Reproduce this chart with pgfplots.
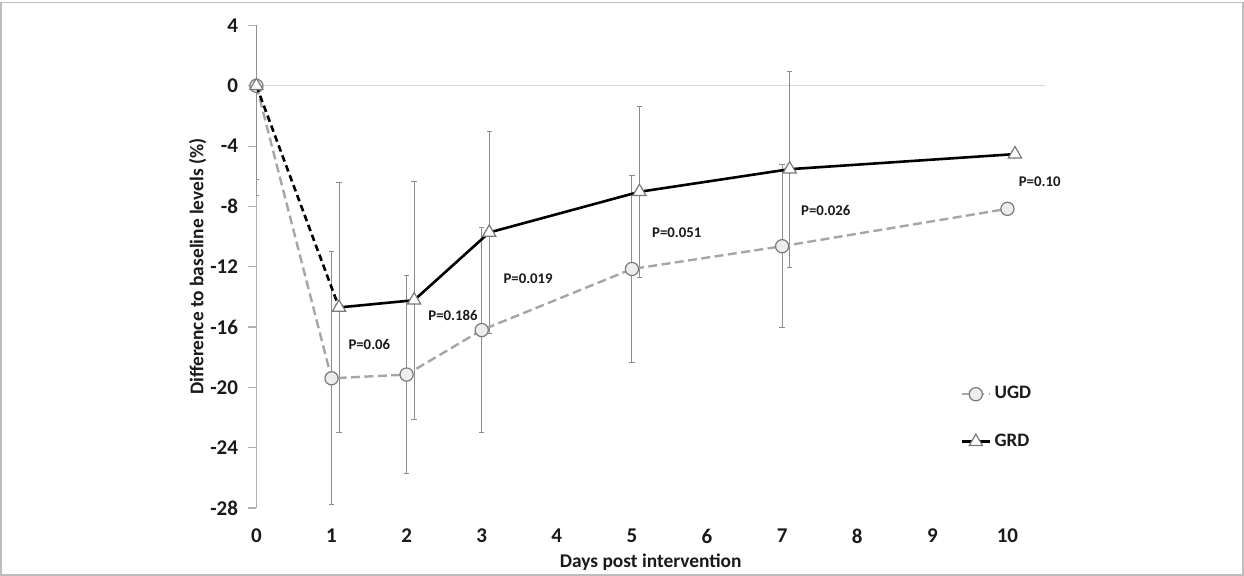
\documentclass[border=0pt]{standalone}
\usepackage{pgfplots}
\pgfplotsset{compat=1.18}
\usepackage{fontspec}
\setmainfont{Carlito}
\definecolor{ugdline}{HTML}{A6A6A6}
\definecolor{ugdfill}{HTML}{EDEDED}
\definecolor{mkedge}{HTML}{7A7A7A}
\definecolor{errc}{HTML}{8C8C8C}
\definecolor{axc}{HTML}{B0B0B0}
\definecolor{zeroc}{HTML}{D9D9D9}
\definecolor{framec}{HTML}{BDBDBD}
\definecolor{txt}{HTML}{1A1A1A}

\pgfplotstableread{
x y e
0 0 7.3
1 -19.4 8.4
2 -19.15 6.55
3 -16.2 6.8
5 -12.15 6.2
7 -10.64 5.4
10 -8.16 0
}\ugd

\pgfplotstableread{
x y e
0 0 6.2
1.1 -14.7 8.3
2.1 -14.22 7.9
3.1 -9.73 6.7
5.1 -7.03 5.67
7.1 -5.53 6.5
10.1 -4.53 0
}\grd

\begin{document}
\begin{tikzpicture}
\useasboundingbox (0,0) rectangle (622pt,288pt);
\draw[framec, line width=0.7pt] (0.5pt,0.4pt) rectangle (621.4pt,286.6pt);
\begin{axis}[
  at={(128.2pt,34pt)}, anchor=south west,
  scale only axis, width=394.3pt, height=241.25pt,
  xmin=0, xmax=10.5, ymin=-28, ymax=4,
  clip mode=individual,
  axis lines=left, axis line style={-},
  x axis line style={draw=none},
  y axis line style={draw=axc, line width=0.6pt},
  xtick={0,1,2,3,4,5,6,7,8,9,10},
  xticklabels={0,1,2,3,4,5,6,7,8,9,10},
  ytick={-28,-24,-20,-16,-12,-8,-4,0,4},
  yticklabels={-28,-24,-20,-16,-12,-8,-4,0,4},
  xtick style={draw=none},
  ytick style={draw=axc, line width=0.6pt},
  tick align=outside, major tick length=4pt,
  tick label style={font=\fontsize{10.5}{12}\selectfont\bfseries, text=txt},
  xticklabel style={anchor=center, yshift=-10pt},
  yticklabel style={anchor=east, inner sep=0pt, xshift=-5pt},
  extra y ticks={0}, extra y tick labels={},
  extra y tick style={grid=major, major grid style={draw=zeroc, line width=0.6pt}, tick style={draw=none}},
  xlabel={Days post intervention},
  ylabel={Difference to baseline levels (\%)},
  xlabel style={at={(axis description cs:0.5,-0.112)}, anchor=center, font=\fontsize{9.7}{11}\selectfont\bfseries, text=txt},
  ylabel style={at={(axis description cs:-0.0746,0.5)}, anchor=center, font=\fontsize{9.7}{11}\selectfont\bfseries, text=txt},
  legend image code/.code={\draw[mark repeat=2, mark phase=2, #1] plot coordinates {(0pt,0pt) (7pt,0pt) (14pt,0pt)};},
  legend style={at={(axis cs:9.37,-22.03)}, anchor=west, draw=none, fill=none, inner sep=0pt, row sep=12.5pt,
    font=\fontsize{9.5}{11}\selectfont\bfseries, text=txt, nodes={inner sep=1.75pt}},
  legend cell align=left,
]
% error bars
\addplot[forget plot, only marks, mark=none, draw=errc, line width=0.5pt,
  error bars/.cd, y dir=both, y explicit,
  error bar style={draw=errc, line width=0.5pt},
  error mark options={rotate=90, draw=errc, mark size=1.35pt, line width=0.5pt}]
  table[x=x, y=y, y error=e] {\ugd};
\addplot[forget plot, only marks, mark=none, draw=errc, line width=0.5pt,
  error bars/.cd, y dir=both, y explicit,
  error bar style={draw=errc, line width=0.5pt},
  error mark options={rotate=90, draw=errc, mark size=1.35pt, line width=0.5pt}]
  table[x=x, y=y, y error=e] {\grd};
% UGD
\addplot[ugdline, line width=1.2pt, dash pattern=on 4.5pt off 2.2pt,
  mark=*, mark size=3.3pt, mark options={solid, fill=ugdfill, draw=mkedge, line width=0.6pt}]
  table[x=x, y=y] {\ugd};
\addlegendentry{UGD}
% GRD dashed first segment with mark at 0
\addplot[forget plot, black, line width=1.3pt, dash pattern=on 3.3pt off 2pt,
  mark=triangle*, mark indices={1}, mark size=3.8pt, mark options={solid, fill=white, draw=mkedge, line width=0.6pt}]
  coordinates {(0,0) (1.1,-14.7)};
% GRD solid
\addplot[black, line width=1.3pt,
  mark=triangle*, mark size=3.8pt, mark options={solid, fill=white, draw=mkedge, line width=0.6pt}]
  table[x=x, y=y, skip coords between index={0}{1}] {\grd};
\addlegendentry{GRD}
% p-values
\begin{scope}[every node/.style={anchor=west, inner sep=0pt, font=\fontsize{7.4}{9}\selectfont\bfseries, text=txt}]
\node at (axis cs:1.221,-17.14) {P=0.06};
\node at (axis cs:2.286,-15.22) {P=0.186};
\node at (axis cs:3.285,-12.78) {P=0.019};
\node at (axis cs:5.265,-9.73) {P=0.051};
\node at (axis cs:7.249,-8.25) {P=0.026};
\node at (axis cs:10.146,-6.37) {P=0.10};
\end{scope}
\end{axis}
\end{tikzpicture}
\end{document}
